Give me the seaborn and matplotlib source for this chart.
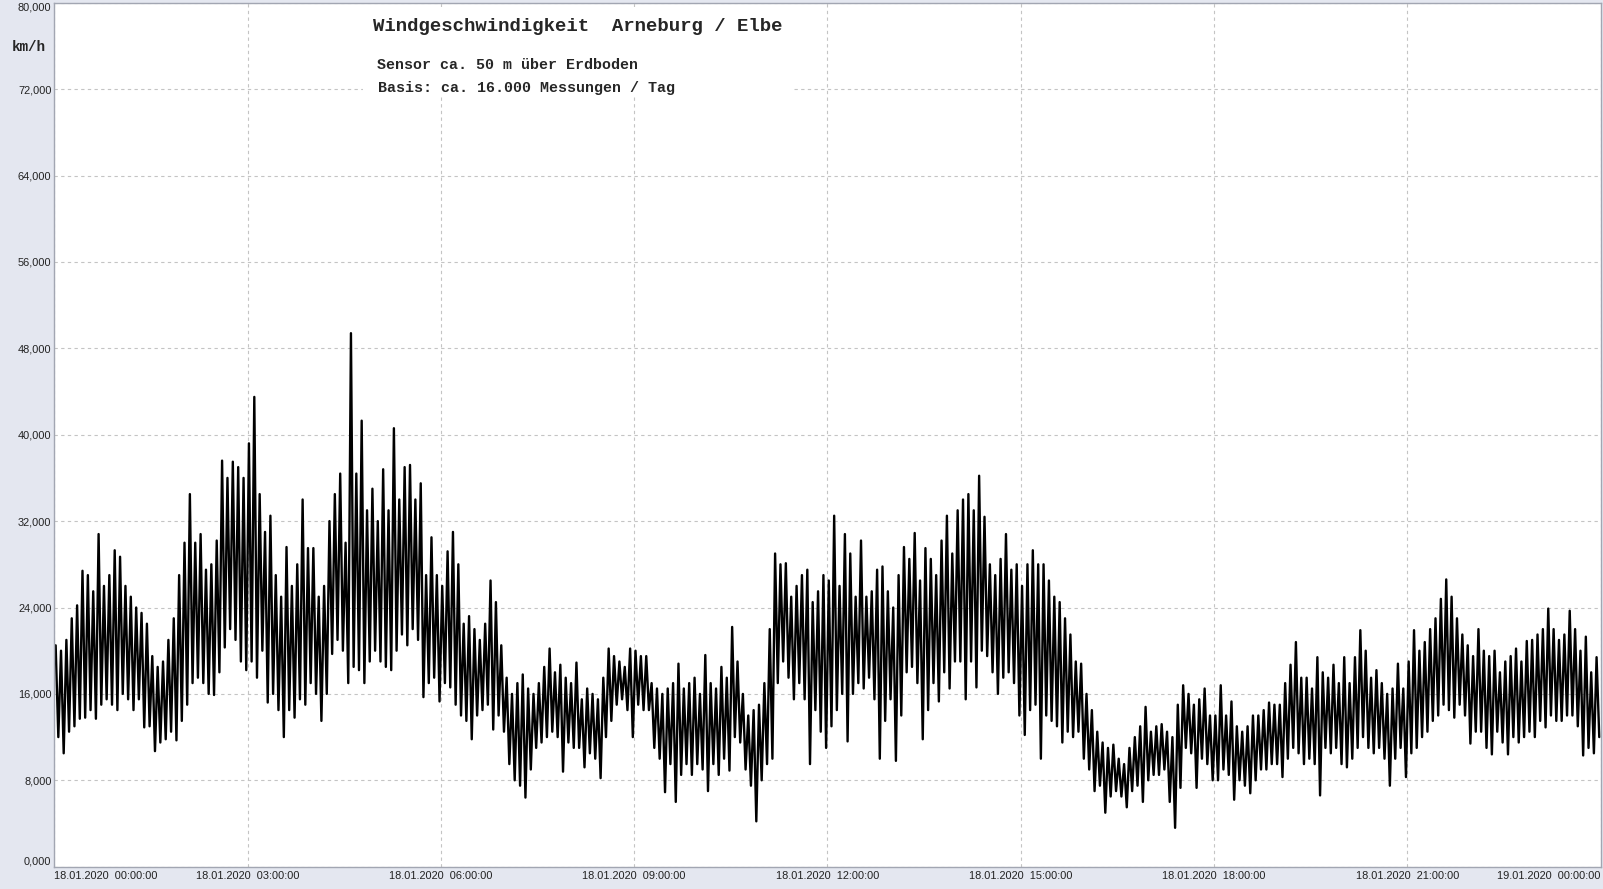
import numpy as np
import pandas as pd
import matplotlib.pyplot as plt
import seaborn as sns
from matplotlib.patches import Rectangle
from matplotlib.ticker import MultipleLocator

# Windgeschwindigkeit Arneburg / Elbe, 18.01.2020
# values: upper and lower edge of the trace per 5-minute slot (km/h)
# one row = one hour (12 slots)
hi_kmh = [
    20.5, 20.0, 21.0, 23.0, 24.2, 27.4, 27.0, 25.5, 30.8, 26.0, 27.0, 29.3,  # 00
    28.7, 26.0, 25.0, 24.0, 23.5, 22.5, 19.5, 18.5, 19.0, 21.0, 23.0, 27.0,  # 01
    30.0, 34.5, 30.0, 30.8, 27.5, 28.0, 30.2, 37.6, 36.0, 37.5, 37.0, 36.0,  # 02
    39.2, 43.5, 34.5, 31.0, 32.5, 27.0, 25.0, 29.6, 26.0, 28.0, 34.0, 29.5,  # 03
    29.5, 25.0, 26.0, 32.0, 34.5, 36.4, 30.0, 49.4, 36.4, 41.3, 33.0, 35.0,  # 04
    32.0, 36.8, 33.0, 40.6, 34.0, 37.0, 37.2, 34.0, 35.5, 27.0, 30.5, 27.0,  # 05
    26.0, 29.2, 31.0, 28.0, 22.5, 23.2, 22.0, 21.0, 22.5, 26.5, 24.5, 20.5,  # 06
    17.5, 16.0, 17.0, 17.8, 16.5, 16.0, 17.0, 18.5, 20.2, 18.0, 18.7, 17.5,  # 07
    17.0, 18.9, 15.5, 16.5, 16.0, 15.5, 17.5, 20.2, 19.5, 19.0, 18.5, 20.2,  # 08
    20.0, 19.5, 19.5, 17.0, 16.5, 16.0, 16.5, 17.0, 18.8, 16.5, 17.0, 17.5,  # 09
    16.0, 19.6, 17.0, 16.5, 18.5, 17.5, 22.2, 19.0, 16.0, 14.0, 14.5, 15.0,  # 10
    17.0, 22.0, 29.0, 28.0, 28.1, 25.0, 26.0, 27.0, 27.5, 24.5, 25.5, 27.0,  # 11
    26.5, 32.5, 26.0, 30.8, 29.0, 25.0, 30.2, 25.0, 25.5, 27.5, 27.8, 25.5,  # 12
    24.0, 27.0, 29.6, 28.5, 30.9, 26.5, 29.5, 28.5, 27.0, 30.2, 32.5, 29.0,  # 13
    33.0, 34.0, 34.5, 33.0, 36.2, 32.4, 28.0, 27.0, 28.5, 30.8, 27.5, 28.0,  # 14
    26.0, 28.0, 29.3, 28.0, 28.0, 26.5, 25.0, 24.5, 23.0, 21.5, 19.0, 18.8,  # 15
    16.0, 14.5, 12.5, 11.5, 11.0, 11.3, 10.0, 9.5, 11.0, 12.0, 13.0, 14.8,   # 16
    12.5, 13.0, 13.2, 12.5, 12.0, 15.0, 16.8, 16.0, 15.0, 15.5, 16.5, 14.0,  # 17
    14.0, 16.8, 14.0, 15.3, 13.0, 12.5, 13.0, 14.0, 14.0, 14.5, 15.2, 15.0,  # 18
    15.0, 17.0, 18.7, 20.8, 17.5, 17.5, 16.5, 19.4, 18.0, 17.5, 18.7, 17.0,  # 19
    19.4, 17.0, 19.4, 21.9, 20.0, 17.5, 18.2, 17.0, 16.0, 16.5, 18.8, 16.5,  # 20
    19.0, 21.9, 20.0, 20.8, 22.0, 23.0, 24.8, 26.6, 25.0, 23.0, 21.5, 20.5,  # 21
    19.5, 22.0, 20.0, 19.5, 20.0, 18.0, 19.0, 19.5, 20.2, 19.0, 20.9, 21.0,  # 22
    21.5, 22.0, 23.9, 22.0, 21.0, 21.5, 23.7, 22.0, 20.0, 21.3, 18.0, 19.4,  # 23
]
lo_kmh = [
    12.0, 10.5, 12.5, 13.0, 13.7, 13.8, 14.5, 13.7, 15.0, 15.5, 15.0, 14.5,  # 00
    16.0, 15.5, 14.5, 15.5, 12.9, 13.0, 10.7, 11.5, 11.8, 12.5, 11.7, 13.5,  # 01
    15.0, 17.0, 17.5, 17.0, 16.0, 15.9, 18.0, 20.3, 22.0, 21.0, 19.0, 18.2,  # 02
    19.0, 17.5, 20.0, 15.2, 16.0, 14.5, 12.0, 14.5, 13.8, 15.5, 15.0, 17.0,  # 03
    16.0, 13.5, 16.0, 19.7, 21.0, 20.0, 17.0, 18.5, 18.2, 17.0, 19.0, 20.0,  # 04
    19.0, 18.5, 18.2, 20.0, 21.5, 20.5, 22.0, 21.0, 15.7, 17.0, 17.5, 15.3,  # 05
    17.0, 16.6, 15.0, 14.0, 13.5, 11.8, 14.0, 14.5, 15.0, 12.7, 14.0, 12.5,  # 06
    9.5, 8.0, 7.5, 6.4, 9.0, 11.0, 11.5, 12.0, 12.5, 12.0, 8.8, 11.5,        # 07
    11.0, 11.0, 9.2, 10.5, 10.0, 8.2, 12.0, 13.5, 15.0, 15.5, 14.5, 12.0,    # 08
    15.0, 14.5, 14.5, 11.0, 10.0, 6.9, 9.5, 6.0, 8.5, 9.5, 8.5, 9.5,         # 09
    9.0, 7.0, 9.5, 8.5, 10.0, 8.9, 12.0, 11.5, 9.0, 7.5, 4.2, 8.0,           # 10
    9.5, 10.0, 17.0, 19.0, 17.5, 15.5, 17.0, 15.5, 9.5, 14.5, 12.5, 11.0,    # 11
    13.0, 14.5, 16.0, 11.6, 16.0, 17.0, 16.5, 17.5, 15.5, 10.0, 13.5, 15.5,  # 12
    9.8, 14.0, 18.0, 18.5, 17.0, 11.8, 14.5, 17.0, 15.3, 18.0, 16.5, 19.0,   # 13
    19.0, 15.5, 19.0, 16.6, 20.0, 19.5, 18.0, 16.0, 17.5, 18.0, 17.0, 14.0,  # 14
    12.2, 14.5, 15.0, 10.0, 14.0, 13.5, 13.0, 11.5, 12.5, 12.0, 12.5, 10.0,  # 15
    9.0, 7.0, 7.5, 5.0, 6.5, 7.0, 6.5, 5.5, 7.0, 7.5, 6.0, 8.0,              # 16
    8.5, 8.5, 9.0, 6.0, 3.6, 7.3, 11.0, 10.5, 7.3, 10.0, 9.5, 8.0,           # 17
    8.0, 9.0, 8.5, 6.2, 8.0, 7.5, 6.8, 8.0, 9.0, 9.0, 9.5, 9.5,              # 18
    8.3, 10.0, 11.0, 10.5, 9.5, 10.0, 9.5, 6.6, 11.0, 10.5, 11.0, 9.5,       # 19
    9.2, 10.0, 11.0, 12.0, 11.0, 10.5, 11.0, 10.0, 7.5, 10.0, 11.0, 8.3,     # 20
    10.5, 11.0, 12.0, 12.5, 13.5, 14.0, 15.0, 14.5, 13.8, 15.0, 14.0, 11.4,  # 21
    12.5, 12.5, 11.0, 10.4, 12.5, 11.5, 10.4, 12.0, 11.5, 12.0, 12.5, 12.0,  # 22
    13.5, 12.9, 14.0, 13.5, 13.5, 14.0, 14.0, 13.0, 10.3, 11.0, 10.5, 12.0,  # 23
]

x_tick_hours = [0, 3, 6, 9, 12, 15, 18, 21, 24]
x_tick_labels = ["18.01.2020  00:00:00", "18.01.2020  03:00:00", "18.01.2020  06:00:00",
                 "18.01.2020  09:00:00", "18.01.2020  12:00:00", "18.01.2020  15:00:00",
                 "18.01.2020  18:00:00", "18.01.2020  21:00:00", "19.01.2020  00:00:00"]
y_ticks = [0, 8, 16, 24, 32, 40, 48, 56, 64, 72, 80]
y_tick_labels = ["0,000", "8,000", "16,000", "24,000", "32,000", "40,000",
                 "48,000", "56,000", "64,000", "72,000", "80,000"]

title = "Windgeschwindigkeit  Arneburg / Elbe"
sub1 = "Sensor ca. 50 m über Erdboden"
sub2 = "Basis: ca. 16.000 Messungen / Tag"

# hi/lo per slot -> one zigzag trace, 2.5 min apart
speed = np.column_stack([hi_kmh, lo_kmh]).ravel()
hours = np.arange(len(speed)) * 2.5 / 60 + 1.25 / 60
df = pd.DataFrame({"Stunde": hours, "kmh": speed})

sns.set_style("white")
plt.rcParams["font.family"] = ["Liberation Sans", "DejaVu Sans"]

W, H = 1603, 889
fig = plt.figure(figsize=(W / 100, H / 100), dpi=100)
fig.patch.set_facecolor("#E4E7F0")
ax = fig.add_axes([54.3 / W, 1 - 866.7 / H, 1546.3 / W, 864 / H])
ax.set_facecolor("white")

sns.lineplot(data=df, x="Stunde", y="kmh", color="black", lw=1.7,
             estimator=None, ax=ax)
ax.set_xlabel("")
ax.set_ylabel("")
ax.set_xlim(0, 24)
ax.set_ylim(0, 80)

ax.set_xticks(x_tick_hours)
ax.set_xticklabels(x_tick_labels)
ax.xaxis.set_minor_locator(MultipleLocator(0.75))
ax.set_yticks(y_ticks)
ax.set_yticklabels(y_tick_labels)
ax.yaxis.set_minor_locator(MultipleLocator(2))

ax.tick_params(which="both", direction="in", color="#A0A0A0", labelsize=7.9,
               labelcolor="#222222")
ax.tick_params(which="major", length=5)
ax.tick_params(which="minor", length=4)
ax.tick_params(axis="y", pad=2)
ax.tick_params(axis="x", pad=3)

xl = ax.get_xticklabels()
xl[0].set_ha("left")
xl[-1].set_ha("right")
yl = ax.get_yticklabels()
yl[0].set_va("bottom")
yl[-1].set_va("top")

ax.grid(True, which="major", color="#C4C4C4", lw=0.8, ls=(0, (3, 3)))
ax.set_axisbelow(True)
for s in ax.spines.values():
    s.set_color("#A2A6B2")
    s.set_linewidth(1)

# white box behind the title block
fig.add_artist(Rectangle((363 / W, 1 - 97 / H), 430 / W, 90 / H,
                         transform=fig.transFigure, facecolor="white",
                         edgecolor="none", zorder=1))

mono = ["Liberation Mono", "DejaVu Sans Mono"]
fig.text(372.7 / W, 1 - 26.7 / H, title, family=mono, weight="bold",
         fontsize=13.7, va="center", ha="left", zorder=3)
fig.text(376.7 / W, 1 - 65 / H, sub1, family=mono, weight="bold",
         fontsize=10.8, va="center", ha="left", zorder=3)
fig.text(377.7 / W, 1 - 88.3 / H, sub2, family=mono, weight="bold",
         fontsize=10.8, va="center", ha="left", zorder=3)
fig.text(28.8 / W, 1 - 46.7 / H, "km/h", family=mono, weight="bold",
         fontsize=10.3, va="center", ha="center")

fig.savefig("out.png", dpi=100, facecolor=fig.get_facecolor())
